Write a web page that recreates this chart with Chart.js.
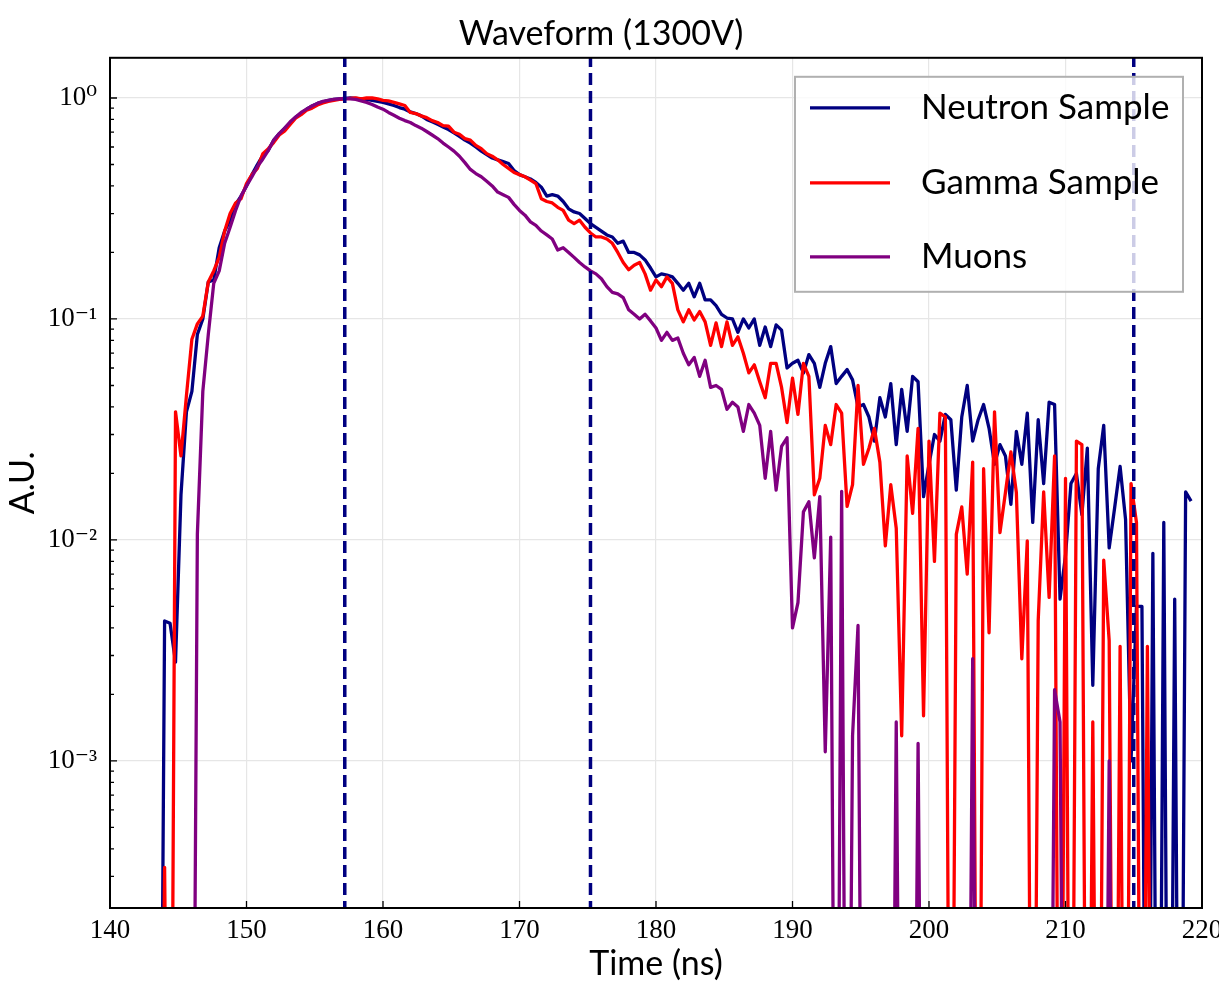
<!DOCTYPE html>
<html>
<head>
<meta charset="utf-8">
<title>Waveform (1300V)</title>
<script src="https://cdn.jsdelivr.net/npm/chart.js@4.4.1/dist/chart.umd.min.js"></script>
<style>
  html, body { margin: 0; padding: 0; background: #fff; }
</style>
</head>
<body>
<canvas id="waveChart" width="1219" height="985"></canvas>
<script>
// sampling grid of the digitiser (ns)
const tStart = 143.6;
const tStep = 0.4;

// normalised amplitudes, one value per sample; 0 = nonpositive sample
const neutron = [
  0, 0.0043, 0.0042, 0.0028, 0.016, 0.038, 0.047, 0.085, 0.10, 0.147,
  0.15, 0.21, 0.25, 0.28, 0.33, 0.36, 0.40, 0.45, 0.50, 0.55,
  0.58, 0.645, 0.69, 0.73, 0.77, 0.82, 0.85, 0.89, 0.92, 0.945,
  0.96, 0.975, 0.985, 0.99, 0.995, 1.0, 0.995, 0.99, 0.985, 0.975,
  0.965, 0.955, 0.94, 0.925, 0.905, 0.89, 0.865, 0.85, 0.83, 0.80,
  0.78, 0.76, 0.74, 0.72, 0.695, 0.67, 0.645, 0.625, 0.60, 0.575,
  0.555, 0.535, 0.525, 0.515, 0.505, 0.47, 0.45, 0.44, 0.43, 0.415,
  0.395, 0.36, 0.365, 0.36, 0.34, 0.315, 0.305, 0.30, 0.285, 0.27,
  0.26, 0.25, 0.24, 0.235, 0.22, 0.225, 0.20, 0.20, 0.195, 0.185,
  0.17, 0.155, 0.16, 0.158, 0.155, 0.145, 0.135, 0.145, 0.126, 0.145,
  0.122, 0.122, 0.115, 0.105, 0.101, 0.10, 0.087, 0.10, 0.091, 0.10,
  0.076, 0.092, 0.075, 0.094, 0.089, 0.060, 0.063, 0.065, 0.057, 0.069,
  0.063, 0.049, 0.063, 0.075, 0.051, 0.055, 0.059, 0.053, 0.040, 0.041,
  0.036, 0.028, 0.044, 0.036, 0.051, 0.027, 0.048, 0.031, 0.055, 0.052,
  0.0157, 0.022, 0.030, 0.028, 0.037, 0.035, 0.0168, 0.036, 0.050, 0.028,
  0.035, 0.041, 0.032, 0.022, 0.027, 0.024, 0.0145, 0.031, 0.022, 0.0375,
  0.012, 0.035, 0.018, 0.042, 0.041, 0.0054, 0.0085, 0.018, 0.020, 0.013,
  0.026, 0.0022, 0.021, 0.033, 0.0092, 0.014, 0.0215, 0.0124, 0.001, 0.005,
  0.005, 0, 0.0087, 0, 0.012, 0, 0.0054, 0, 0.0165, 0.015
];
const gamma = [
  0, 0.00033, 0, 0.038, 0.024, 0.045, 0.081, 0.095, 0.103, 0.147,
  0.165, 0.19, 0.25, 0.30, 0.335, 0.35, 0.41, 0.45, 0.48, 0.56,
  0.59, 0.63, 0.68, 0.71, 0.76, 0.81, 0.84, 0.88, 0.90, 0.93,
  0.95, 0.965, 0.975, 0.985, 0.99, 0.995, 1.0, 0.99, 1.0, 1.0,
  0.99, 0.975, 0.97, 0.955, 0.94, 0.925, 0.86, 0.85, 0.83, 0.815,
  0.79, 0.775, 0.75, 0.745, 0.70, 0.685, 0.655, 0.645, 0.61, 0.59,
  0.56, 0.545, 0.525, 0.50, 0.48, 0.46, 0.45, 0.44, 0.425, 0.41,
  0.35, 0.34, 0.335, 0.32, 0.31, 0.28, 0.27, 0.28, 0.26, 0.245,
  0.235, 0.235, 0.23, 0.22, 0.20, 0.18, 0.167, 0.175, 0.18, 0.16,
  0.135, 0.15, 0.14, 0.155, 0.145, 0.11, 0.097, 0.11, 0.099, 0.108,
  0.097, 0.076, 0.096, 0.075, 0.097, 0.076, 0.083, 0.07, 0.057, 0.062,
  0.052, 0.044, 0.063, 0.063, 0.049, 0.034, 0.054, 0.037, 0.063, 0.055,
  0.016, 0.019, 0.033, 0.027, 0.041, 0.0375, 0.0142, 0.0178, 0.050, 0.022,
  0.026, 0.032, 0.0225, 0.0094, 0.0178, 0.0113, 0.0013, 0.024, 0.0132, 0.032,
  0.0016, 0.028, 0.008, 0.0375, 0.036, 0, 0.0106, 0.0141, 0.007, 0.0225,
  0, 0.021, 0.0038, 0.038, 0.0108, 0.0164, 0.025, 0.0164, 0.0029, 0.0099,
  0, 0.0043, 0.0165, 0.0055, 0.024, 0, 0.019, 0, 0.028, 0.027,
  0, 0.0015, 0, 0.0081, 0.0035, 0, 0.0033, 0, 0.018, 0.012,
  0, 0.0033, 0, 0, 0, 0, 0, 0, 0, 0
];
const muons = [
  0, 0, 0, 0, 0, 0, 0, 0.0106, 0.047, 0.085,
  0.145, 0.165, 0.22, 0.26, 0.31, 0.36, 0.40, 0.44, 0.49, 0.53,
  0.58, 0.645, 0.69, 0.73, 0.78, 0.82, 0.86, 0.89, 0.92, 0.945,
  0.965, 0.975, 0.985, 0.99, 0.995, 0.99, 0.985, 0.97, 0.955, 0.935,
  0.91, 0.89, 0.86, 0.835, 0.81, 0.79, 0.775, 0.75, 0.73, 0.705,
  0.68, 0.655, 0.625, 0.60, 0.575, 0.545, 0.51, 0.475, 0.455, 0.44,
  0.42, 0.40, 0.375, 0.365, 0.355, 0.33, 0.31, 0.295, 0.275, 0.265,
  0.25, 0.24, 0.23, 0.205, 0.21, 0.20, 0.19, 0.18, 0.172, 0.165,
  0.16, 0.152, 0.14, 0.132, 0.13, 0.125, 0.11, 0.105, 0.10, 0.105,
  0.098, 0.091, 0.08, 0.087, 0.08, 0.082, 0.07, 0.062, 0.067, 0.055,
  0.065, 0.049, 0.05, 0.048, 0.039, 0.042, 0.04, 0.031, 0.041, 0.0375,
  0.033, 0.019, 0.031, 0.0168, 0.0265, 0.029, 0.004, 0.0052, 0.0134, 0.0149,
  0.0083, 0.0157, 0.0011, 0.0103, 0, 0.0166, 0, 0.0013, 0.0041, 0,
  0, 0, 0, 0, 0, 0.0015, 0, 0, 0, 0.0012,
  0, 0, 0, 0, 0, 0, 0, 0, 0, 0.0029,
  0, 0, 0, 0, 0, 0, 0, 0, 0, 0,
  0, 0, 0, 0, 0.0021, 0.0015, 0, 0, 0, 0,
  0, 0, 0, 0, 0.001, 0, 0, 0, 0, 0,
  0, 0, 0, 0, 0, 0, 0, 0, 0, 0
];

// integration gate boundaries (ns)
const gateTimes = [157.2, 175.2, 215.0];

const seriesNames = ['Neutron Sample', 'Gamma Sample', 'Muons'];
const seriesColors = ['#000080', '#ff0000', '#800080'];

const xMin = 140, xMax = 220;
const yMin = 2.16e-4, yMax = 1.52;
const xTicks = [140, 150, 160, 170, 180, 190, 200, 210, 220];

const sansFont = 'Lato, "Open Sans", "DejaVu Sans", sans-serif';
const serifFont = '"Liberation Serif", "DejaVu Serif", serif';

// log axis cannot show 0, push those samples far below the frame (they get clipped)
const LOG_FLOOR = 1e-6;
function toPoints(values) {
  return values.map(function (v, i) {
    return { x: +(tStart + i * tStep).toFixed(2), y: v > 0 ? v : LOG_FLOOR };
  });
}

const supMap = { '-': '\u207B', '0': '\u2070', '1': '\u00B9', '2': '\u00B2', '3': '\u00B3' };
function decadeLabel(e) {
  return '10' + String(e).split('').map(function (c) { return supMap[c]; }).join('');
}
function isDecade(v) {
  const e = Math.log10(v);
  return Math.abs(e - Math.round(e)) < 1e-9;
}

const datasets = [];
gateTimes.forEach(function (t) {
  datasets.push({
    label: 'gate',
    data: [{ x: t, y: yMin / 10 }, { x: t, y: yMax * 10 }],
    borderColor: '#000080',
    borderWidth: 3.5,
    borderDash: [12, 6],
    pointRadius: 0,
    order: 0
  });
});
[neutron, gamma, muons].forEach(function (vals, k) {
  datasets.push({
    label: seriesNames[k],
    data: toPoints(vals),
    borderColor: seriesColors[k],
    borderWidth: 3.3,
    borderJoinStyle: 'round',
    pointRadius: 0,
    tension: 0,
    order: 3 - k
  });
});

// inward ticks, black frame and the matplotlib-like legend inside the axes
const framePlugin = {
  id: 'frame',
  afterDraw: function (chart) {
    const ctx = chart.ctx;
    const a = chart.chartArea;
    const x = chart.scales.x, y = chart.scales.y;
    ctx.save();
    ctx.strokeStyle = '#000';
    ctx.lineWidth = 1.3;
    ctx.beginPath();
    xTicks.forEach(function (v) {
      const px = x.getPixelForValue(v);
      ctx.moveTo(px, a.bottom);
      ctx.lineTo(px, a.bottom - 7);
    });
    for (let e = -4; e <= 0; e++) {
      for (let m = 1; m <= 9; m++) {
        const v = m * Math.pow(10, e);
        if (v < yMin || v > yMax) continue;
        const py = y.getPixelForValue(v);
        ctx.moveTo(a.left, py);
        ctx.lineTo(a.left + (m === 1 ? 7 : 4), py);
      }
    }
    ctx.stroke();
    ctx.lineWidth = 2;
    ctx.strokeRect(a.left, a.top, a.right - a.left, a.bottom - a.top);

    // legend
    const bx = a.right - 407, by = a.top + 19, bw = 388, bh = 215;
    ctx.fillStyle = 'rgba(255,255,255,0.8)';
    ctx.fillRect(bx, by, bw, bh);
    ctx.strokeStyle = '#b0b0b0';
    ctx.lineWidth = 2;
    ctx.strokeRect(bx, by, bw, bh);
    ctx.font = '35px ' + sansFont;
    ctx.textBaseline = 'middle';
    ctx.textAlign = 'left';
    ctx.fillStyle = '#000';
    const rows = [31, 106, 180];
    for (let k = 0; k < 3; k++) {
      const ds = chart.data.datasets[gateTimes.length + k];
      const ry = by + rows[k];
      ctx.strokeStyle = ds.borderColor;
      ctx.lineWidth = 3.3;
      ctx.beginPath();
      ctx.moveTo(bx + 15, ry);
      ctx.lineTo(bx + 95, ry);
      ctx.stroke();
      ctx.fillText(ds.label, bx + 126, ry);
    }
    ctx.restore();
  }
};

const ctx = document.getElementById('waveChart').getContext('2d');
const waveChart = new Chart(ctx, {
  type: 'line',
  data: { datasets: datasets },
  options: {
    responsive: false,
    animation: false,
    layout: { padding: { left: 0, right: 17, top: 0, bottom: 0 } },
    plugins: {
      legend: { display: false },
      tooltip: { enabled: false },
      title: {
        display: true,
        text: 'Waveform (1300V)',
        color: '#000',
        font: { family: sansFont, size: 34, weight: 'normal', lineHeight: 1.2 },
        padding: { top: 14, bottom: 3 }
      }
    },
    scales: {
      x: {
        type: 'linear',
        min: xMin,
        max: xMax,
        afterFit: function (s) {
          s.height = 77;
          s.paddingLeft = 0;
          s.paddingRight = 0;
        },
        ticks: {
          stepSize: 10,
          autoSkip: false,
          maxRotation: 0,
          padding: 7,
          color: '#000',
          font: { family: serifFont, size: 27 }
        },
        grid: { color: '#e6e6e6', lineWidth: 1.2, drawTicks: false },
        border: { display: false },
        title: {
          display: true,
          text: 'Time (ns)',
          color: '#000',
          font: { family: sansFont, size: 34, lineHeight: 1.2 },
          padding: { top: 0, bottom: 1 }
        }
      },
      y: {
        type: 'logarithmic',
        min: yMin,
        max: yMax,
        afterFit: function (s) {
          s.width = 110;
          s.paddingTop = 0;
          s.paddingBottom = 0;
        },
        ticks: {
          autoSkip: false,
          padding: 13,
          color: '#000',
          font: { family: serifFont, size: 27 },
          callback: function (v) {
            return isDecade(v) ? decadeLabel(Math.round(Math.log10(v))) : '';
          }
        },
        grid: {
          drawTicks: false,
          lineWidth: 1.2,
          color: function (c) {
            return c.tick && isDecade(c.tick.value) ? '#e6e6e6' : 'rgba(0,0,0,0)';
          }
        },
        border: { display: false },
        title: {
          display: true,
          text: 'A.U.',
          color: '#000',
          font: { family: sansFont, size: 34, lineHeight: 1.2 },
          padding: { top: 3, bottom: 0 }
        }
      }
    }
  },
  plugins: [framePlugin]
});
</script>
</body>
</html>
